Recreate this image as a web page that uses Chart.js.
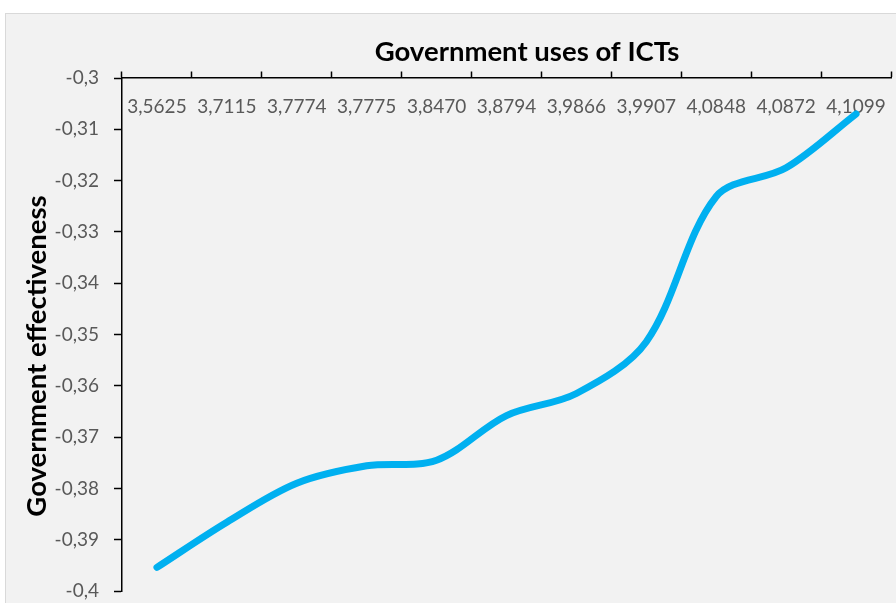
<!DOCTYPE html>
<html><head><meta charset="utf-8">
<script src="https://cdn.jsdelivr.net/npm/chart.js@4/dist/chart.umd.min.js"></script>
<style>html,body{margin:0;padding:0;background:#fff;overflow:hidden}#wrap{width:896px;height:603px}</style>
</head><body><div id="wrap"><canvas id="c" width="896" height="603"></canvas></div>
<script>
const xLabels = ['3,5625','3,7115','3,7774','3,7775','3,8470','3,8794','3,9866','3,9907','4,0848','4,0872','4,1099'];
const effectiveness = [-0.3954,-0.3866,-0.3790,-0.3756,-0.3745,-0.3658,-0.3615,-0.3514,-0.3231,-0.3175,-0.3070];
const yTickLabels = ['-0,4','-0,39','-0,38','-0,37','-0,36','-0,35','-0,34','-0,33','-0,32','-0,31','-0,3'];
const xTitle = 'Government uses of ICTs';
const yTitle = 'Government effectiveness';

const bgPlugin = {
  id: 'bg',
  beforeDraw(chart) {
    const ctx = chart.ctx;
    ctx.save();
    ctx.fillStyle = '#f2f2f2';
    ctx.fillRect(5.5, 13.5, 900, 600);
    ctx.strokeStyle = '#d9d9d9';
    ctx.lineWidth = 1;
    ctx.strokeRect(5.5, 13.5, 900, 600);
    ctx.restore();
  }
};
const titlesPlugin = {
  id: 'titles',
  afterDraw(chart) {
    const ctx = chart.ctx;
    ctx.save();
    ctx.font = 'bold 27.5px Lato';
    ctx.fillStyle = '#000';
    ctx.textAlign = 'center';
    ctx.textBaseline = 'middle';
    ctx.fillText(xTitle, 527, 52);
    ctx.translate(37, 356);
    ctx.rotate(-Math.PI / 2);
    ctx.fillText(yTitle, 0, 0);
    ctx.restore();
  }
};
function zeroPad(s) { s.paddingLeft = 0; s.paddingRight = 0; s.paddingTop = 0; s.paddingBottom = 0; }

new Chart(document.getElementById('c'), {
  type: 'line',
  data: {
    labels: xLabels,
    datasets: [{
      data: effectiveness,
      borderColor: '#00b0f0',
      borderWidth: 7,
      pointRadius: 0,
      tension: 0.33,
      borderCapStyle: 'round',
      borderJoinStyle: 'round',
      fill: false,
      clip: false
    }]
  },
  options: {
    responsive: false,
    animation: false,
    devicePixelRatio: 1,
    layout: { padding: { left: 5, top: 13, right: 5, bottom: 12 } },
    plugins: { legend: { display: false }, title: { display: false }, tooltip: { enabled: false } },
    scales: {
      x: {
        position: 'top',
        offset: true,
        border: { display: true, color: '#000', width: 1.5 },
        grid: { display: true, offset: true, drawOnChartArea: false, drawTicks: true, tickLength: 6.5, tickColor: '#000', tickWidth: 1.5 },
        ticks: { mirror: true, padding: 17, color: '#595959', font: { family: 'Lato', size: 19 }, maxRotation: 0, autoSkip: false },
        title: { display: false },
        afterFit(s) { s.height = 65; zeroPad(s); }
      },
      y: {
        min: -0.4, max: -0.3,
        border: { display: true, color: '#000', width: 1.5 },
        grid: { drawOnChartArea: false, drawTicks: true, tickLength: 8, tickColor: '#000', tickWidth: 1.5 },
        ticks: { stepSize: 0.01, padding: 15, color: '#595959', font: { family: 'Lato', size: 19 }, callback: (v, i) => yTickLabels[i] },
        afterFit(s) { s.width = 117; zeroPad(s); }
      }
    }
  },
  plugins: [bgPlugin, titlesPlugin]
});
</script>
</body></html>
